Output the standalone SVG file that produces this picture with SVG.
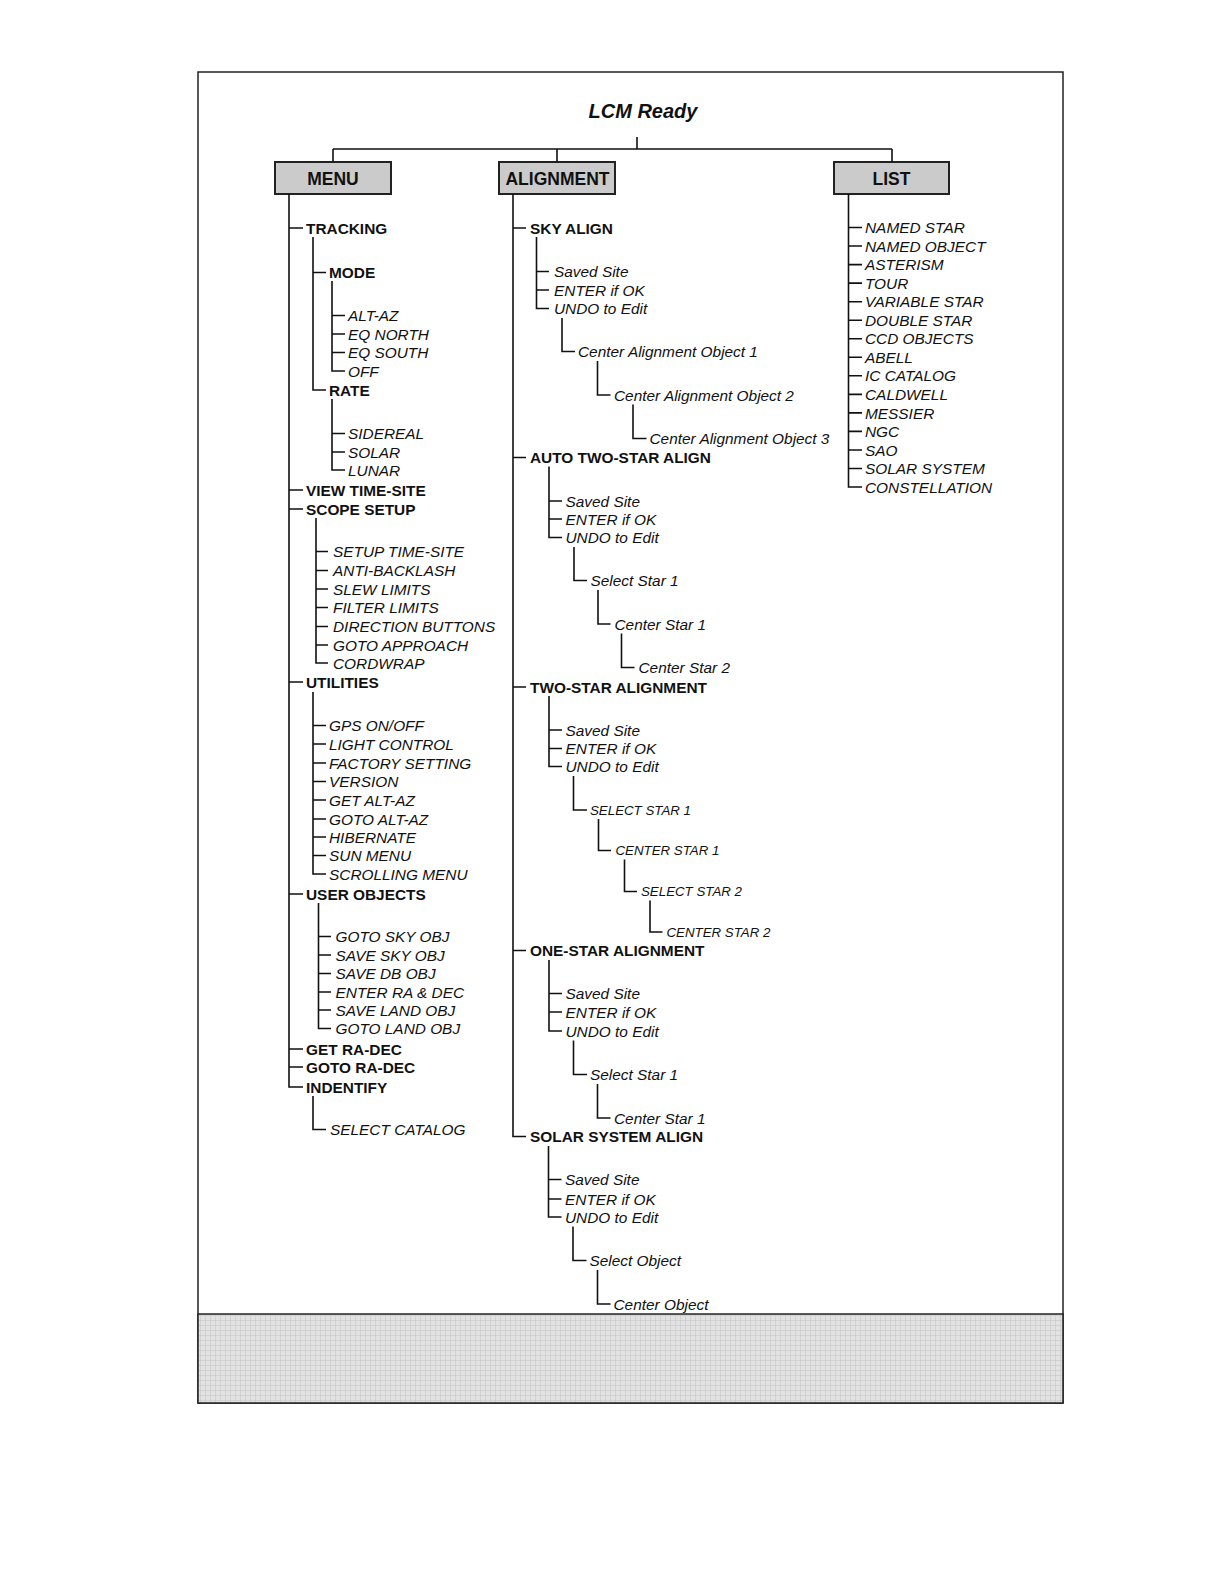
<svg xmlns="http://www.w3.org/2000/svg" width="1224" height="1584" viewBox="0 0 1224 1584">
<defs>
<pattern id="grid" width="5" height="5" patternUnits="userSpaceOnUse">
<rect width="5" height="5" fill="#e2e2e2"/>
<path d="M0 0.5H5M0.5 0V5" stroke="#cbcbcb" stroke-width="0.7"/>
</pattern>
<style>
text{font-family:"Liberation Sans",Arial,sans-serif;fill:#111;}
.b{font-weight:bold;font-size:15.4px;}
.i{font-style:italic;font-size:15.4px;}
.s{font-style:italic;font-size:13.3px;}
.h{font-weight:bold;font-size:17.5px;text-anchor:middle;}
.t{font-weight:bold;font-style:italic;font-size:20px;text-anchor:middle;}
.box{fill:#cbcbcb;stroke:#222;stroke-width:2;}
.c{fill:none;stroke:#111;stroke-width:1.6;}
</style>
</defs>
<rect x="0" y="0" width="1224" height="1584" fill="#fff"/>
<rect x="198" y="72" width="865" height="1331" fill="none" stroke="#222" stroke-width="1.5"/>
<rect x="198" y="1314" width="865" height="89" fill="url(#grid)" stroke="#222" stroke-width="1.5"/>

<g id="title"><text class="t" x="643" y="118">LCM Ready</text></g>
<g id="menu"><rect class="box" x="275" y="162" width="116" height="32"/><text class="h" x="333" y="185">MENU</text></g>
<g id="alignment"><rect class="box" x="499" y="162" width="116" height="32"/><text class="h" x="557.5" y="185">ALIGNMENT</text></g>
<g id="list"><rect class="box" x="834" y="162" width="115" height="32"/><text class="h" x="891.5" y="185">LIST</text></g>

<g id="connectors">
<path class="c" d="M637 137V149M333 149H892M333 149V162M557 149V162M892 149V162"/>
<!-- MENU -->
<path class="c" d="M289 194V1087H303M289 228H303M289 490H303M289 509H303M289 682H303M289 894H303M289 1049H303M289 1067H303"/>
<path class="c" d="M313 237V390H326M313 272.5H326"/>
<path class="c" d="M332 281V371H345M332 315.5H345M332 334H345M332 352.5H345"/>
<path class="c" d="M332 399V470H345M332 433.5H345M332 452H345"/>
<path class="c" d="M316 518V663H328M316 551.5H328M316 570.5H328M316 589H328M316 607.5H328M316 626.5H328M316 645H328"/>
<path class="c" d="M313 692V874H326M313 725.5H326M313 744H326M313 763H326M313 781.5H326M313 800H326M313 819H326M313 837H326M313 855.5H326"/>
<path class="c" d="M318.5 903V1028.5H331M318.5 936.5H331M318.5 955H331M318.5 973.5H331M318.5 992H331M318.5 1010H331"/>
<path class="c" d="M313 1096V1129.5H326"/>
<!-- ALIGNMENT -->
<path class="c" d="M513 194V1136.5H526M513 228H526M513 457.5H526M513 687H526M513 950.5H526"/>
<path class="c" d="M536.5 237V308.5H549M536.5 271.5H549M536.5 290H549" stroke-width="2"/>
<path class="c" d="M562 318V351.5H575M597.5 361V395H610.5M633 404.5V438.5H646.5"/>
<path class="c" d="M549 466.5V537.5H562M549 501H562M549 519H562"/>
<path class="c" d="M574 547V580.5H587M598 590V624H610.5M621.5 633.5V667.5H634.5"/>
<path class="c" d="M549 696V766.5H562M549 730H562M549 748.5H562"/>
<path class="c" d="M573.5 776V810H587M598.5 819V850.5H611M624.5 859.5V891.5H637M650 900.5V932H662.5"/>
<path class="c" d="M549 960V1031H562M549 993.5H562M549 1012H562"/>
<path class="c" d="M573.5 1040.5V1074.5H587M597.5 1084V1118H610.5"/>
<path class="c" d="M548.5 1146V1217H561.5M548.5 1179.5H561.5M548.5 1199H561.5"/>
<path class="c" d="M573 1226.5V1260.5H586.5M597.5 1270V1304H610.5"/>
<!-- LIST -->
<path class="c" d="M848.5 194V487H862M848.5 227.5H862M848.5 246H862M848.5 264.6H862M848.5 283.1H862M848.5 301.7H862M848.5 320.2H862M848.5 338.7H862M848.5 357.3H862M848.5 375.8H862M848.5 394.4H862M848.5 412.9H862M848.5 431.4H862M848.5 450H862M848.5 468.5H862"/>
</g>

<!-- MENU items -->
<g id="m-tracking"><text class="b" x="306" y="233.5">TRACKING</text></g>
<g id="m-mode"><text class="b" x="329" y="278">MODE</text></g>
<g id="m-altaz"><text class="i" x="348" y="321">ALT-AZ</text></g>
<g id="m-eqnorth"><text class="i" x="348" y="339.5">EQ NORTH</text></g>
<g id="m-eqsouth"><text class="i" x="348" y="358">EQ SOUTH</text></g>
<g id="m-off"><text class="i" x="348" y="376.5">OFF</text></g>
<g id="m-rate"><text class="b" x="329" y="395.5">RATE</text></g>
<g id="m-sidereal"><text class="i" x="348" y="439">SIDEREAL</text></g>
<g id="m-solar"><text class="i" x="348" y="457.5">SOLAR</text></g>
<g id="m-lunar"><text class="i" x="348" y="475.5">LUNAR</text></g>
<g id="m-viewtime"><text class="b" x="306" y="495.5">VIEW TIME-SITE</text></g>
<g id="m-scope"><text class="b" x="306" y="514.5">SCOPE SETUP</text></g>
<g id="m-setuptime"><text class="i" x="333" y="557">SETUP TIME-SITE</text></g>
<g id="m-antiback"><text class="i" x="333" y="576">ANTI-BACKLASH</text></g>
<g id="m-slew"><text class="i" x="333" y="594.5">SLEW LIMITS</text></g>
<g id="m-filter"><text class="i" x="333" y="613">FILTER LIMITS</text></g>
<g id="m-direction"><text class="i" x="333" y="632">DIRECTION BUTTONS</text></g>
<g id="m-gotoapp"><text class="i" x="333" y="650.5">GOTO APPROACH</text></g>
<g id="m-cordwrap"><text class="i" x="333" y="668.5">CORDWRAP</text></g>
<g id="m-utilities"><text class="b" x="306" y="687.5">UTILITIES</text></g>
<g id="m-gps"><text class="i" x="329" y="731">GPS ON/OFF</text></g>
<g id="m-light"><text class="i" x="329" y="749.5">LIGHT CONTROL</text></g>
<g id="m-factory"><text class="i" x="329" y="768.5">FACTORY SETTING</text></g>
<g id="m-version"><text class="i" x="329" y="787">VERSION</text></g>
<g id="m-getaltaz"><text class="i" x="329" y="805.5">GET ALT-AZ</text></g>
<g id="m-gotoaltaz"><text class="i" x="329" y="824.5">GOTO ALT-AZ</text></g>
<g id="m-hibernate"><text class="i" x="329" y="842.5">HIBERNATE</text></g>
<g id="m-sun"><text class="i" x="329" y="861">SUN MENU</text></g>
<g id="m-scrolling"><text class="i" x="329" y="879.5">SCROLLING MENU</text></g>
<g id="m-userobj"><text class="b" x="306" y="899.5">USER OBJECTS</text></g>
<g id="m-gotosky"><text class="i" x="335.5" y="942">GOTO SKY OBJ</text></g>
<g id="m-savesky"><text class="i" x="335.5" y="960.5">SAVE SKY OBJ</text></g>
<g id="m-savedb"><text class="i" x="335.5" y="979">SAVE DB OBJ</text></g>
<g id="m-enterra"><text class="i" x="335.5" y="997.5">ENTER RA &amp; DEC</text></g>
<g id="m-saveland"><text class="i" x="335.5" y="1015.5">SAVE LAND OBJ</text></g>
<g id="m-gotoland"><text class="i" x="335.5" y="1034">GOTO LAND OBJ</text></g>
<g id="m-getradec"><text class="b" x="306" y="1054.5">GET RA-DEC</text></g>
<g id="m-gotoradec"><text class="b" x="306" y="1072.5">GOTO RA-DEC</text></g>
<g id="m-indentify"><text class="b" x="306" y="1092.5">INDENTIFY</text></g>
<g id="m-selcat"><text class="i" x="330" y="1135">SELECT CATALOG</text></g>

<!-- ALIGNMENT items -->
<g id="a-sky"><text class="b" x="530" y="233.5">SKY ALIGN</text></g>
<g id="a-sky-saved"><text class="i" x="554" y="277">Saved Site</text></g>
<g id="a-sky-enter"><text class="i" x="554" y="295.5">ENTER if OK</text></g>
<g id="a-sky-undo"><text class="i" x="554" y="314">UNDO to Edit</text></g>
<g id="a-sky-c1"><text class="i" x="578" y="357">Center Alignment Object 1</text></g>
<g id="a-sky-c2"><text class="i" x="614" y="400.5">Center Alignment Object 2</text></g>
<g id="a-sky-c3"><text class="i" x="649.5" y="444">Center Alignment Object 3</text></g>
<g id="a-auto"><text class="b" x="530" y="463">AUTO TWO-STAR ALIGN</text></g>
<g id="a-auto-saved"><text class="i" x="565.5" y="506.5">Saved Site</text></g>
<g id="a-auto-enter"><text class="i" x="565.5" y="524.5">ENTER if OK</text></g>
<g id="a-auto-undo"><text class="i" x="565.5" y="543">UNDO to Edit</text></g>
<g id="a-auto-sel1"><text class="i" x="590.5" y="586">Select Star 1</text></g>
<g id="a-auto-cen1"><text class="i" x="614.5" y="629.5">Center Star 1</text></g>
<g id="a-auto-cen2"><text class="i" x="638.5" y="673">Center Star 2</text></g>
<g id="a-two"><text class="b" x="530" y="692.5">TWO-STAR ALIGNMENT</text></g>
<g id="a-two-saved"><text class="i" x="565.5" y="735.5">Saved Site</text></g>
<g id="a-two-enter"><text class="i" x="565.5" y="754">ENTER if OK</text></g>
<g id="a-two-undo"><text class="i" x="565.5" y="772">UNDO to Edit</text></g>
<g id="a-two-sel1"><text class="s" x="590" y="814.8">SELECT STAR 1</text></g>
<g id="a-two-cen1"><text class="s" x="615.5" y="855.3">CENTER STAR 1</text></g>
<g id="a-two-sel2"><text class="s" x="641" y="896.3">SELECT STAR 2</text></g>
<g id="a-two-cen2"><text class="s" x="666.5" y="936.8">CENTER STAR 2</text></g>
<g id="a-one"><text class="b" x="530" y="956">ONE-STAR ALIGNMENT</text></g>
<g id="a-one-saved"><text class="i" x="565.5" y="999">Saved Site</text></g>
<g id="a-one-enter"><text class="i" x="565.5" y="1017.5">ENTER if OK</text></g>
<g id="a-one-undo"><text class="i" x="565.5" y="1036.5">UNDO to Edit</text></g>
<g id="a-one-sel1"><text class="i" x="590" y="1080">Select Star 1</text></g>
<g id="a-one-cen1"><text class="i" x="614" y="1123.5">Center Star 1</text></g>
<g id="a-solar"><text class="b" x="530" y="1142">SOLAR SYSTEM ALIGN</text></g>
<g id="a-solar-saved"><text class="i" x="565" y="1185">Saved Site</text></g>
<g id="a-solar-enter"><text class="i" x="565" y="1204.5">ENTER if OK</text></g>
<g id="a-solar-undo"><text class="i" x="565" y="1222.5">UNDO to Edit</text></g>
<g id="a-solar-sel"><text class="i" x="589.5" y="1266">Select Object</text></g>
<g id="a-solar-cen"><text class="i" x="613.5" y="1309.5">Center Object</text></g>

<!-- LIST items -->
<g id="l-namedstar"><text class="i" x="865" y="233">NAMED STAR</text></g>
<g id="l-namedobj"><text class="i" x="865" y="251.5">NAMED OBJECT</text></g>
<g id="l-asterism"><text class="i" x="865" y="270">ASTERISM</text></g>
<g id="l-tour"><text class="i" x="865" y="288.5">TOUR</text></g>
<g id="l-variable"><text class="i" x="865" y="307">VARIABLE STAR</text></g>
<g id="l-double"><text class="i" x="865" y="325.5">DOUBLE STAR</text></g>
<g id="l-ccd"><text class="i" x="865" y="344">CCD OBJECTS</text></g>
<g id="l-abell"><text class="i" x="865" y="362.5">ABELL</text></g>
<g id="l-ic"><text class="i" x="865" y="381">IC CATALOG</text></g>
<g id="l-caldwell"><text class="i" x="865" y="400">CALDWELL</text></g>
<g id="l-messier"><text class="i" x="865" y="418.5">MESSIER</text></g>
<g id="l-ngc"><text class="i" x="865" y="437">NGC</text></g>
<g id="l-sao"><text class="i" x="865" y="455.5">SAO</text></g>
<g id="l-solarsys"><text class="i" x="865" y="474">SOLAR SYSTEM</text></g>
<g id="l-constellation"><text class="i" x="865" y="492.5">CONSTELLATION</text></g>
</svg>
